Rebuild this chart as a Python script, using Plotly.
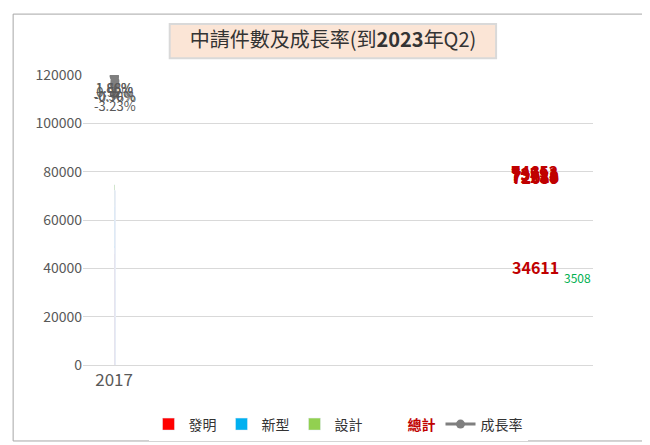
import plotly.graph_objects as go

years = ["2017", "2018", "2019", "2020", "2021", "2022", "2023"]
invention = [46122, 47429, 48268, 46664, 49116, 50242, 24256]
utility = [19549, 17910, 17580, 17555, 15796, 14662, 6847]
design = [8120, 8082, 8804, 8019, 7701, 7155, 3508]
totals = [73791, 73421, 74652, 72238, 72613, 72059, 34611]
growth = [1.86, -0.50, 1.68, -3.23, 0.52, -0.76]
growth_labels = ["1.86%", "-0.50%", "1.68%", "-3.23%", "0.52%", "-0.76%"]

font = "Noto Sans CJK TC, Arial, sans-serif"
fig = go.Figure()

fig.add_trace(go.Bar(x=years, y=invention, name="發明", marker_color="#ff0000",
                     text=invention, textposition="inside", insidetextanchor="middle",
                     textfont=dict(color="#ffff00", size=12)))
fig.add_trace(go.Bar(x=years, y=utility, name="新型", marker_color="#00b0f0",
                     text=utility, textposition="inside", insidetextanchor="middle",
                     textfont=dict(color="white", size=12)))
design_text = [str(v) for v in design[:-1]] + [""]
fig.add_trace(go.Bar(x=years, y=design, name="設計", marker_color="#92d050",
                     text=design_text, textposition="inside", insidetextanchor="middle",
                     textfont=dict(color="#333333", size=12)))
# legend-only entry for totals
fig.add_trace(go.Scatter(x=[years[0]], y=[None], mode="markers",
                         name="<span style='color:#c00000'><b>總計</b></span>",
                         marker=dict(color="white", size=1)))
fig.add_trace(go.Scatter(x=years[:-1], y=growth, name="成長率", yaxis="y2",
                         mode="lines+markers+text", text=growth_labels,
                         textposition="bottom center",
                         textfont=dict(color="#595959", size=13),
                         line=dict(color="#7f7f7f", width=3),
                         marker=dict(size=9, color="#7f7f7f")))

for yr, t in zip(years, totals):
    fig.add_annotation(x=yr, y=t, text=f"<b>{t}</b>", showarrow=False, yshift=14,
                       font=dict(color="#c00000", size=16))
fig.add_annotation(x=years[-1], y=totals[-1] - design[-1] / 2, text=str(design[-1]),
                   showarrow=False, xshift=42, yshift=8, font=dict(color="#00b050", size=12))

fig.update_layout(
    width=650, height=445, barmode="stack", bargap=0.4,
    font=dict(family=font),
    paper_bgcolor="white", plot_bgcolor="white",
    margin=dict(l=75, r=65, t=67, b=83),
    title=dict(text="中請件數及成長率(到<b>2023</b>年Q2)", x=0.5, xanchor="center",
               y=0.928, yanchor="middle", font=dict(size=20, color="#333333")),
    xaxis=dict(type="category", tickfont=dict(size=17, color="#595959"),
               showline=True, linecolor="#d9d9d9"),
    yaxis=dict(range=[0, 120000], dtick=20000, tickformat="d", gridcolor="#d9d9d9",
               tickfont=dict(size=14, color="#595959"), zeroline=False),
    yaxis2=dict(overlaying="y", range=[-79.4, 2.2], visible=False),
    legend=dict(orientation="h", x=0.5, xanchor="center", y=-0.15, yanchor="top",
                font=dict(size=14, color="#333333"), traceorder="normal"),
    shapes=[dict(type="rect", xref="paper", yref="paper", x0=0.17, x1=0.81, y0=1.058, y1=1.176,
                 fillcolor="#fbe5d6", line=dict(color="#d9d9d9"), layer="below"),
            dict(type="rect", xref="paper", yref="paper", x0=-0.137, x1=1.118, y0=-0.262, y1=1.21,
                 line=dict(color="#a6a6a6", width=1))],
)

fig.write_html("out.html")
